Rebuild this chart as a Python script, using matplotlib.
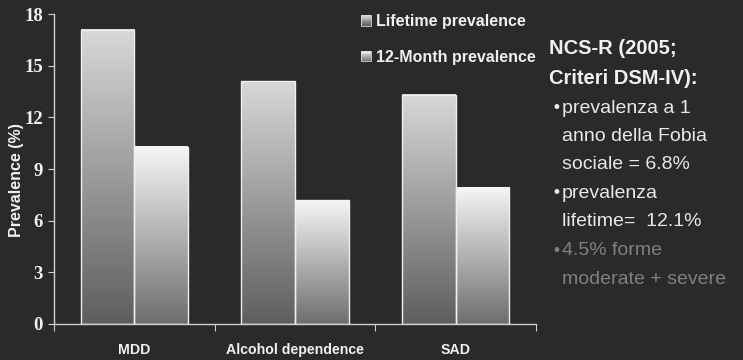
import numpy as np
import matplotlib
matplotlib.use('Agg')
import matplotlib.pyplot as plt
from matplotlib.patches import Rectangle
from matplotlib.legend_handler import HandlerBase

# data
categories = ['MDD', 'Alcohol dependence', 'SAD']
series_names = ['Lifetime prevalence', '12-Month prevalence']
lifetime = [17.1, 14.1, 13.3]
month12 = [10.3, 7.2, 7.9]
yticks = [0, 3, 6, 9, 12, 15, 18]

side_title = ['NCS-R (2005;', 'Criteri DSM-IV):']
side_bullets = [['prevalenza a 1', 'anno della Fobia', 'sociale = 6.8%'],
                ['prevalenza', 'lifetime=  12.1%'],
                ['4.5% forme', 'moderate + severe']]

bg = '#2a2a2a'
grads = [('#d8d8d8', '#5e5e5e'), ('#f6f6f6', '#6e6e6e')]


def make_cmap(top, bottom):
    return matplotlib.colors.LinearSegmentedColormap.from_list('g', [bottom, top])


class GradHandler(HandlerBase):
    def __init__(self, top, bottom):
        super().__init__()
        self.top = top
        self.bottom = bottom

    def create_artists(self, legend, orig_handle, xdescent, ydescent, width, height, fontsize, trans):
        cm = make_cmap(self.top, self.bottom)
        side = width
        x0 = -xdescent
        y0 = -ydescent + (height - side) / 2
        n = 12
        arts = []
        for k in range(n):
            r = Rectangle((x0, y0 + side * k / n), side, side / n + 0.2,
                          facecolor=cm(k / (n - 1)), edgecolor='none', transform=trans)
            arts.append(r)
        arts.append(Rectangle((x0, y0), side, side, facecolor='none',
                              edgecolor='#dddddd', lw=0.6, transform=trans))
        return arts


fig = plt.figure(figsize=(7.43, 3.6), dpi=100, facecolor=bg)
ax = fig.add_axes([0.0727, 0.1, 0.6487, 0.861])
ax.set_facecolor(bg)

x = np.arange(len(categories))
w = 0.335
gy = np.linspace(0, 1, 256).reshape(-1, 1)
for s, vals in enumerate([lifetime, month12]):
    cm = make_cmap(*grads[s])
    for i, v in enumerate(vals):
        left = x[i] - w + s * w
        ax.imshow(gy, cmap=cm, origin='lower', aspect='auto',
                  extent=(left, left + w, 0, v), zorder=2)
        ax.add_patch(Rectangle((left, 0), w, v, facecolor='none',
                               edgecolor='#f0f0f0', lw=1.0, zorder=3))

ax.set_xlim(-0.5, len(categories) - 0.5)
ax.set_ylim(0, 18)
ax.set_yticks(yticks)
ax.set_yticklabels([str(t) for t in yticks], family='Liberation Serif',
                   fontweight='bold', fontsize=13.5, color='#f0f0f0')
ax.set_xticks(np.arange(len(categories) + 1) - 0.5)
ax.set_xticklabels([])
ax.set_xticks(x, minor=True)
ax.set_xticklabels(categories, minor=True, family='Liberation Sans',
                   fontweight='bold', fontsize=10.2, color='#f0f0f0')
ax.tick_params(axis='x', which='minor', length=0, pad=14)
ax.tick_params(axis='x', which='major', length=5, color='#d0d0d0', direction='out')
ax.tick_params(axis='y', length=4, color='#d0d0d0', pad=4)
ax.set_ylabel('Prevalence (%)', family='Liberation Sans', fontweight='bold',
              fontsize=11.5, color='#f0f0f0', va='center')
ax.yaxis.set_label_coords(-0.078, 0.465)
for sp in ['top', 'right']:
    ax.spines[sp].set_visible(False)
for sp in ['left', 'bottom']:
    ax.spines[sp].set_color('#d0d0d0')
    ax.spines[sp].set_linewidth(1.0)

h1 = Rectangle((0, 0), 1, 1)
h2 = Rectangle((0, 0), 1, 1)
leg = fig.legend([h1, h2], series_names, loc='upper left', bbox_to_anchor=(361 / 743, 1 - 14 / 360),
                 frameon=False, handlelength=0.65, handleheight=0.7, handletextpad=0.3,
                 labelspacing=1.3, borderpad=0, borderaxespad=0,
                 prop={'family': 'Liberation Sans', 'weight': 'bold', 'size': 11.5},
                 handler_map={h1: GradHandler(*grads[0]), h2: GradHandler(*grads[1])})
for t in leg.get_texts():
    t.set_color('#f0f0f0')

# side text
fig.text(549 / 743, 1 - 48 / 360, side_title[0], family='Liberation Sans', fontweight='bold',
         fontsize=14.5, color='#f0f0f0', va='center')
fig.text(549 / 743, 1 - 78 / 360, side_title[1], family='Liberation Sans', fontweight='bold',
         fontsize=14.5, color='#f0f0f0', va='center')
y = 108
for b, lines in enumerate(side_bullets):
    col = '#e8e8e8' if b < 2 else '#808080'
    fig.text(551 / 743, 1 - y / 360, '\u2022', family='DejaVu Sans', fontsize=12,
             color=col, va='center')
    for ln in lines:
        fig.text(562 / 743, 1 - y / 360, ln, family='Liberation Sans', fontsize=14,
                 color=col, va='center')
        y += 28.5

fig.savefig('out.png', dpi=100, facecolor=bg)
